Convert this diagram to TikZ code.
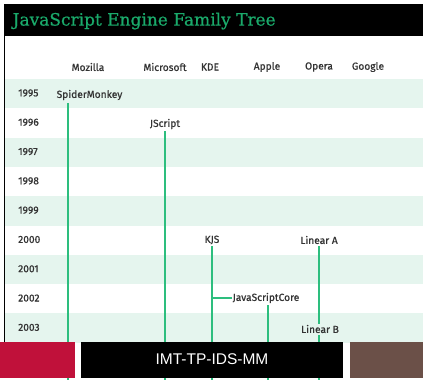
\documentclass[tikz,border=0pt]{standalone}
\usepackage{fontspec}
\setmainfont{Fira Sans}
\newfontfamily\titlefont{DejaVu Serif}[FakeBold=0.6]
\newfontfamily\footfont{Liberation Sans}
\definecolor{band}{HTML}{E5F5EE}
\definecolor{lgreen}{HTML}{2DBE7E}
\definecolor{tgreen}{HTML}{1AAA6B}
\definecolor{txt}{HTML}{333333}
\definecolor{fred}{HTML}{C0113A}
\definecolor{fbrown}{HTML}{6B5048}
\tikzset{
  lbl/.style={font=\fontsize{10.2}{12}\selectfont\addfontfeatures{FakeBold=0.8}, text=txt, inner sep=1pt},
  yr/.style={lbl, anchor=west},
  link/.style={draw=lgreen, line width=1.1pt},
}
\begin{document}
\begin{tikzpicture}[x=1pt,y=-1pt]
\useasboundingbox (0,0) rectangle (423,380);
\fill[white] (0,0) rectangle (423,380);
% bands
\foreach \i in {0,2,4,6,8} {
  \fill[band] (5,{79+29.3*\i}) rectangle (423,{79+29.3*(\i+1)});
}
% left border
\draw[black, line width=1.2pt] (4.6,36) -- (4.6,345);
% title bar
\fill[black] (4,4) rectangle (423,36);
\node[anchor=west, text=tgreen, font=\titlefont\fontsize{17}{20}\selectfont, inner sep=0pt] (title) at (12.5,21) {JavaScript Engine Family Tree};
% header
\node[lbl] (hmoz) at (88,67) {Mozilla};
\node[lbl] (hms) at (165,67) {Microsoft};
\node[lbl] (hkde) at (210,67) {KDE};
\node[lbl] (happ) at (267,67) {Apple};
\node[lbl] (hop) at (319,67) {Opera};
\node[lbl] (hgo) at (368,67) {Google};
% years
\foreach \y [count=\i from 0] in {1995,...,2003} {
  \node[yr] (y\y) at (17,{93+29.3*\i}) {\y};
}
% engines
\node[lbl] (sm) at (89.5,95) {SpiderMonkey};
\node[lbl] (js) at (165,124) {JScript};
\node[lbl] (kjs) at (212,240) {KJS};
\node[lbl] (la) at (319,240) {Linear A};
\node[lbl] (jsc) at (266,298) {JavaScriptCore};
\node[lbl] (lb) at (320,329) {Linear B};
\coordinate (smb) at (68,380);
\coordinate (jsb) at (165,380);
\coordinate (kjsb) at (212,380);
\coordinate (jscb) at (268,380);
\coordinate (lbb) at (319,380);
\coordinate (kjsj) at (212,298);
\draw[link] (sm.south -| 68,0) ++(0,2) -- (smb);
\draw[link] (js.south) ++(0,1) -- (jsb);
\draw[link] (kjs.south) ++(0,1) -- (kjsb);
\draw[link] (la.south -| lbb) ++(0,1) -- (lb.north -| lbb);
\draw[link] (lb.south -| lbb) ++(0,1) -- (lbb);
\draw[link] (kjsj) -- (jsc.west);
\draw[link] (jsc.south -| jscb) ++(0,1) -- (jscb);
% footer
\fill[fred] (0,342) rectangle (75,378);
\fill[black] (81,342) rectangle (343,378);
\fill[fbrown] (350,342) rectangle (423,378);
\node[text=white, font=\footfont\fontsize{15.5}{18}\selectfont] (foot) at (212,359.5) {IMT-TP-IDS-MM};
\end{tikzpicture}
\end{document}
